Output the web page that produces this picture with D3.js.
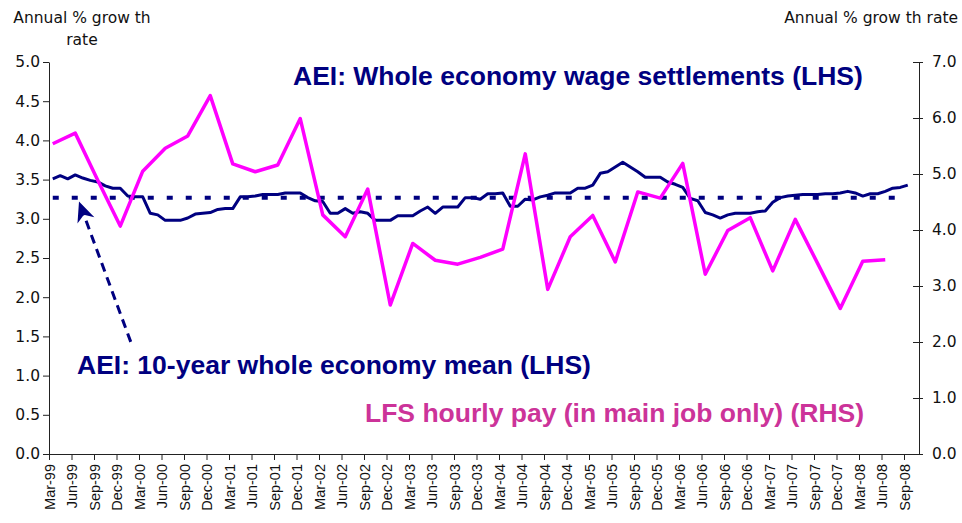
<!DOCTYPE html>
<html>
<head>
<meta charset="utf-8">
<script src="https://cdn.jsdelivr.net/npm/d3@7"></script>
<style>
  body { margin: 0; background: #fff; }
  svg { display: block; }
</style>
</head>
<body>
<div id="chart"></div>
<script>
// quarterly category labels on the x axis
var quarterLabels = [
  "Mar-99","Jun-99","Sep-99","Dec-99","Mar-00","Jun-00","Sep-00","Dec-00",
  "Mar-01","Jun-01","Sep-01","Dec-01","Mar-02","Jun-02","Sep-02","Dec-02",
  "Mar-03","Jun-03","Sep-03","Dec-03","Mar-04","Jun-04","Sep-04","Dec-04",
  "Mar-05","Jun-05","Sep-05","Dec-05","Mar-06","Jun-06","Sep-06","Dec-06",
  "Mar-07","Jun-07","Sep-07","Dec-07","Mar-08","Jun-08","Sep-08"
];

// AEI whole economy wage settlements, monthly from Mar-99 (LHS)
var aeiSettlements = [
  3.51,3.55,3.51,3.56,3.52,3.49,3.47,3.42,3.39,3.39,
  3.29,3.28,3.28,3.07,3.05,2.98,2.98,2.98,3.01,3.06,
  3.07,3.08,3.12,3.13,3.13,3.28,3.28,3.29,3.31,3.31,
  3.31,3.33,3.33,3.33,3.27,3.23,3.22,3.07,3.07,3.13,
  3.07,3.09,3.07,2.98,2.98,2.98,3.04,3.04,3.04,3.10,
  3.15,3.07,3.15,3.15,3.15,3.27,3.27,3.25,3.32,3.32,
  3.33,3.16,3.16,3.25,3.24,3.28,3.30,3.33,3.33,3.33,
  3.39,3.39,3.43,3.58,3.60,3.66,3.72,3.66,3.60,3.53,
  3.53,3.53,3.47,3.44,3.40,3.26,3.23,3.08,3.05,3.01,
  3.05,3.07,3.07,3.07,3.09,3.10,3.21,3.27,3.29,3.30,
  3.31,3.31,3.31,3.32,3.32,3.33,3.35,3.33,3.29,3.32,
  3.32,3.35,3.39,3.40,3.43
];

// LFS hourly pay (main job only), quarterly from Mar-99 (RHS)
var lfsHourlyPay = [
  5.54,5.73,4.89,4.07,5.05,5.46,5.68,6.40,
  5.18,5.04,5.16,5.99,4.27,3.88,4.73,2.66,
  3.76,3.46,3.39,3.51,3.66,5.36,2.94,3.88,
  4.26,3.43,4.68,4.57,5.19,3.21,3.99,4.22,
  3.27,4.19,3.40,2.60,3.44,3.47
];

// 10-year mean, drawn from Mar-99 to Aug-08 (month numbers from Mar-99)
var aeiMean = 3.27;
var aeiMeanMonths = [0, 113];

var leftTicks = [0, 0.5, 1, 1.5, 2, 2.5, 3, 3.5, 4, 4.5, 5];
var rightTicks = [0, 1, 2, 3, 4, 5, 6, 7];

var width = 962, height = 523;
var navy = '#000080', magenta = '#ff00ff', pink = '#cc3399';
var tickFont = 'DejaVu Sans, Verdana, sans-serif';
var labelFont = 'Liberation Sans, Arial, sans-serif';

var svg = d3.select('#chart').append('svg')
  .attr('width', width).attr('height', height);

// one category per month, ticks on month boundaries
var x = d3.scaleLinear().domain([0, 116]).range([49, 919]);
var yLeft = d3.scaleLinear().domain([0, 5]).range([454, 62]);
var yRight = d3.scaleLinear().domain([0, 7]).range([454, 62]);
function monthX(m) { return x(m + 0.5); }

// axes
var xAxis = d3.axisBottom(x)
  .tickValues(quarterLabels.map(function (d, i) { return i * 3; }))
  .tickFormat(function (d) { return quarterLabels[d / 3]; })
  .tickSize(6).tickSizeOuter(0);
var gx = svg.append('g').attr('transform', 'translate(0,454)').call(xAxis);
gx.selectAll('text')
  .attr('transform', 'rotate(-90)')
  .attr('text-anchor', 'end')
  .attr('x', -10).attr('y', 0).attr('dy', '0.36em')
  .style('font-family', labelFont).style('font-size', '14.5px');

var gl = svg.append('g').attr('transform', 'translate(49,0)')
  .call(d3.axisLeft(yLeft).tickValues(leftTicks).tickFormat(d3.format('.1f'))
    .tickSize(6).tickPadding(3).tickSizeOuter(0));

var gr = svg.append('g').attr('transform', 'translate(919,0)')
  .call(d3.axisRight(yRight).tickValues(rightTicks).tickFormat(d3.format('.1f'))
    .tickSize(4).tickPadding(9).tickSizeOuter(0));
gr.selectAll('.tick line').attr('x1', -6);

[gl, gr].forEach(function (g) {
  g.selectAll('text').style('font-family', tickFont).style('font-size', '15.5px');
});
[gx, gl, gr].forEach(function (g) {
  g.selectAll('path, line').attr('stroke', '#222');
  g.selectAll('text').attr('fill', '#111');
});

// axis titles
var titleLeft = ['Annual % grow th', 'rate'];
svg.append('text').attr('x', 82).attr('y', 23).attr('text-anchor', 'middle')
  .style('font-family', tickFont).style('font-size', '15.5px').attr('fill', '#111')
  .text(titleLeft[0]);
svg.append('text').attr('x', 82).attr('y', 45).attr('text-anchor', 'middle')
  .style('font-family', tickFont).style('font-size', '15.5px').attr('fill', '#111')
  .text(titleLeft[1]);
svg.append('text').attr('x', 958).attr('y', 23).attr('text-anchor', 'end')
  .style('font-family', tickFont).style('font-size', '15.5px').attr('fill', '#111')
  .text('Annual % grow th rate');

// series
var aeiLine = d3.line()
  .x(function (d, i) { return monthX(i); })
  .y(function (d) { return yLeft(d); });
svg.append('path').datum(aeiSettlements)
  .attr('d', aeiLine)
  .attr('fill', 'none').attr('stroke', navy).attr('stroke-width', 3)
  .attr('stroke-linejoin', 'round');

svg.append('line')
  .attr('x1', monthX(aeiMeanMonths[0])).attr('x2', monthX(aeiMeanMonths[1]))
  .attr('y1', yLeft(aeiMean)).attr('y2', yLeft(aeiMean))
  .attr('stroke', navy).attr('stroke-width', 4).attr('stroke-dasharray', '6,13');

var lfsLine = d3.line()
  .x(function (d, i) { return monthX(i * 3); })
  .y(function (d) { return yRight(d); });
svg.append('path').datum(lfsHourlyPay)
  .attr('d', lfsLine)
  .attr('fill', 'none').attr('stroke', magenta).attr('stroke-width', 3.5)
  .attr('stroke-linejoin', 'round');

// arrow pointing at the mean line
var arrowFrom = { month: 10.9, value: 1.43 };
var arrowTo = { month: 4.0, value: 3.22 };
svg.append('defs').append('marker')
  .attr('id', 'head').attr('markerUnits', 'userSpaceOnUse')
  .attr('viewBox', '-21 -10 22 20').attr('markerWidth', 22).attr('markerHeight', 20)
  .attr('refX', 0).attr('refY', 0).attr('orient', 'auto')
  .append('path').attr('d', 'M0,0L-20,-9L-14,0L-20,9Z').attr('fill', navy);
svg.append('line')
  .attr('x1', x(arrowFrom.month)).attr('y1', yLeft(arrowFrom.value))
  .attr('x2', x(arrowTo.month)).attr('y2', yLeft(arrowTo.value))
  .attr('stroke', navy).attr('stroke-width', 3).attr('stroke-dasharray', '9,6')
  .attr('marker-end', 'url(#head)');

// series labels
var labels = [
  { text: 'AEI: Whole economy wage settlements (LHS)', x: 293, y: 85, color: navy },
  { text: 'AEI: 10-year whole economy mean (LHS)', x: 77, y: 374, color: navy },
  { text: 'LFS hourly pay (in main job only) (RHS)', x: 365, y: 422, color: pink }
];
svg.selectAll('.series-label').data(labels).enter().append('text')
  .attr('class', 'series-label')
  .attr('x', function (d) { return d.x; })
  .attr('y', function (d) { return d.y; })
  .attr('fill', function (d) { return d.color; })
  .style('font-family', labelFont).style('font-size', '26.5px').style('font-weight', 'bold')
  .text(function (d) { return d.text; });
</script>
</body>
</html>
